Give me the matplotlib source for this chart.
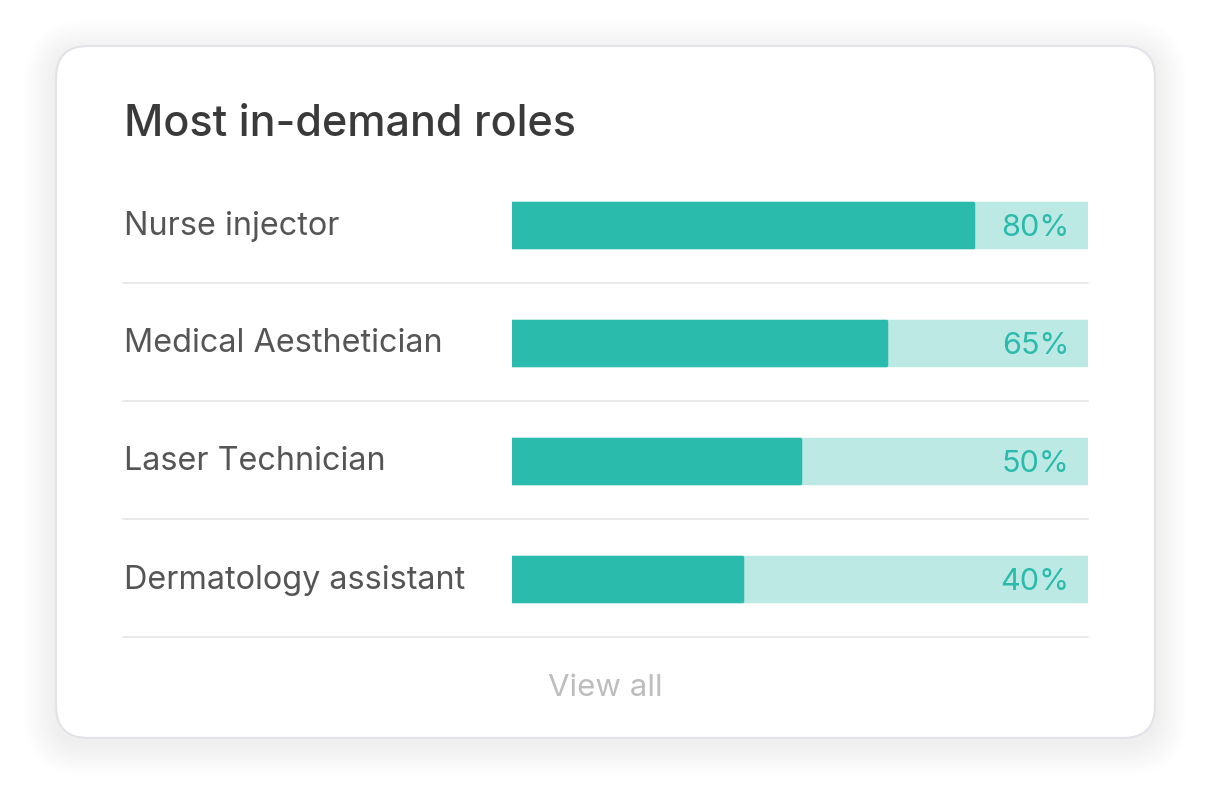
import matplotlib
matplotlib.use("Agg")
import matplotlib.pyplot as plt
from matplotlib.patches import FancyBboxPatch

# ---- data ----
title = "Most in-demand roles"
roles = ["Nurse injector", "Medical Aesthetician", "Laser Technician", "Dermatology assistant"]
values = [80, 65, 50, 40]
value_labels = ["80%", "65%", "50%", "40%"]
footer = "View all"

# ---- style ----
W, H = 1210, 802
TEAL = "#2abbad"
TEAL_LIGHT = "#bde9e5"
TEXT = "#555555"
TITLE_C = "#3a3a3a"
GRID = "#e6e6e6"
FONT = ["Inter", "DejaVu Sans"]

fig = plt.figure(figsize=(W / 100, H / 100), dpi=100)
fig.patch.set_facecolor("white")
ax = fig.add_axes([0, 0, 1, 1])
ax.set_xlim(0, W)
ax.set_ylim(H, 0)
ax.axis("off")

# card shadow
card_x0, card_y0, card_x1, card_y1 = 56, 46, 1155, 738
for i in range(16, 0, -1):
    ax.add_patch(FancyBboxPatch((card_x0 - i * 2, card_y0 - i * 2 + 6),
                                card_x1 - card_x0 + i * 4, card_y1 - card_y0 + i * 4,
                                boxstyle=f"round,pad=0,rounding_size={30 + i * 2}",
                                facecolor="#000000", edgecolor="none", alpha=0.0022, zorder=0))
ax.add_patch(FancyBboxPatch((card_x0, card_y0), card_x1 - card_x0, card_y1 - card_y0,
                            boxstyle="round,pad=0,rounding_size=32",
                            facecolor="white", edgecolor="#e2e2e8", linewidth=1.5, zorder=1))

# title
ax.text(124, 124, title, fontsize=31, color=TITLE_C, family=FONT, fontweight="medium",
        va="center", ha="left", zorder=3)

row_y = [224.5, 342.5, 460.5, 578.5]
sep_y = [283, 401, 519, 637]
bar_h = 47

for r, y in zip(roles, row_y):
    ax.text(124, y + 1.5, r, fontsize=23.3, color=TEXT, family=FONT, va="center", ha="left", zorder=3)
for s in sep_y:
    ax.plot([123, 1088], [s, s], color=GRID, linewidth=1.2, zorder=2)

ax.text(605, 688, footer, fontsize=22.5, color="#bdbdbd", family=FONT, va="center", ha="center", zorder=3)

# bars axes
bx = fig.add_axes([512 / W, 0, (1088 - 512) / W, 1])
bx.set_xlim(0, 100)
bx.set_ylim(H, 0)
bx.axis("off")
bx.patch.set_alpha(0)
lw = 2.5
bx.barh(row_y, [100] * len(values), height=bar_h - 3, color=TEAL_LIGHT, edgecolor=TEAL_LIGHT,
        linewidth=lw, joinstyle="round", zorder=3)
bx.barh(row_y, values, height=bar_h - 3, color=TEAL, edgecolor=TEAL,
        linewidth=lw, joinstyle="round", zorder=4)
for y, lab in zip(row_y, value_labels):
    bx.text(1069, y + 3, lab, transform=ax.transData, fontsize=22, color=TEAL, family=FONT,
            va="center", ha="right", zorder=6)

fig.savefig("out.png", dpi=100, facecolor="white")
